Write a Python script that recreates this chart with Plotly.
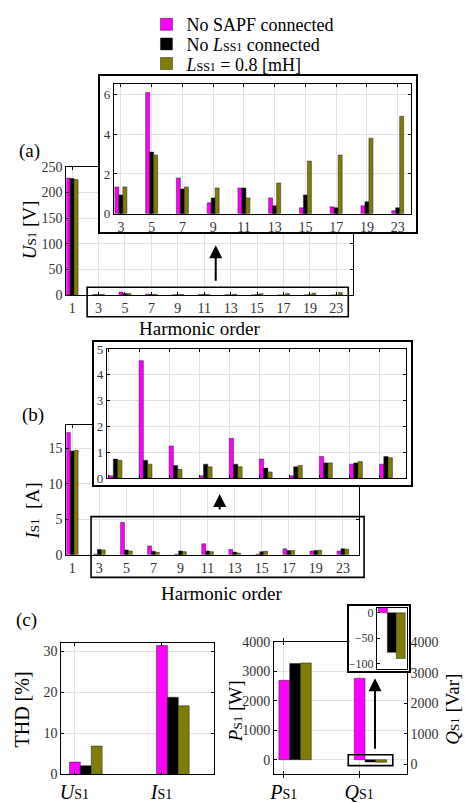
import plotly.graph_objects as go

# ---------------- data ----------------
harmonics = ["1", "3", "5", "7", "9", "11", "13", "15", "17", "19", "23"]

# supply voltage harmonics U_S1 [V]
u_no_sapf = [228, 1.35, 6.1, 1.8, 0.55, 1.3, 0.8, 0.3, 0.35, 0.4, 0.15]
u_no_lss = [227, 0.95, 3.1, 1.25, 0.8, 1.3, 0.4, 0.95, 0.3, 0.6, 0.3]
u_lss = [225, 1.35, 2.95, 1.35, 1.3, 0.8, 1.55, 2.65, 2.95, 3.8, 4.9]

# supply current harmonics I_S1 [A]
i_no_sapf = [17.2, 0.1, 4.55, 1.25, 0.1, 1.55, 0.75, 0.1, 0.85, 0.55, 0.55]
i_no_lss = [14.6, 0.75, 0.7, 0.5, 0.55, 0.55, 0.4, 0.45, 0.6, 0.6, 0.85]
i_lss = [14.7, 0.7, 0.55, 0.35, 0.45, 0.45, 0.25, 0.5, 0.6, 0.65, 0.8]


def sc(t, size=13):
    # small subscript kept on the baseline (as in the original figure)
    return '<span style="font-size:%dpx">%s</span>' % (size, t)


# THD [%]
thd_labels = ["<i>U</i>" + sc("S1", 14), "<i>I</i>" + sc("S1", 14)]
thd_no_sapf = [3.0, 31.4]
thd_no_lss = [2.1, 18.8]
thd_lss = [6.9, 16.7]

# powers
pq_labels = ["<i>P</i>" + sc("S1", 14), "<i>Q</i>" + sc("S1", 14)]
pq_no_sapf = [2700, 2770]
pq_no_lss = [3270, -78]
pq_lss = [3290, -90]

series_names = ["No SAPF connected",
                "No <i>L</i>" + sc("SS1", 12) + " connected",
                "<i>L</i>" + sc("SS1", 12) + " = 0.8 [mH]"]
colors = ["#ff00ff", "#000000", "#7f7d05"]

# ---------------- layout helpers ----------------
W, H = 465, 803
FONT = "Liberation Serif, Times New Roman, serif"


def dx(a, b):
    return [a / W, b / W]


def dy(top, bottom):
    return [1 - bottom / H, 1 - top / H]


def axis(domain, anchor, rng, grid=True, labels=True, size=14, mirror="allticks",
         tickvals=None, ticks="inside", lw=1, **kw):
    d = dict(domain=domain, anchor=anchor, range=rng, autorange=False,
             showline=True, linecolor="black", linewidth=lw, mirror=mirror,
             ticks=ticks, ticklen=3, tickwidth=1, tickcolor="black",
             showgrid=grid, gridcolor="#e2e2e2", gridwidth=1, zeroline=False,
             showticklabels=labels, fixedrange=True,
             tickfont=dict(family=FONT, size=size, color="#333"))
    if tickvals is not None:
        d["tickvals"] = tickvals
    d.update(kw)
    return d


def box_axis(domain, anchor):
    return dict(domain=domain, anchor=anchor, range=[0, 1], autorange=False,
                showline=True, linecolor="black", linewidth=1.6, mirror=True,
                ticks="", showgrid=False, zeroline=False, showticklabels=False,
                fixedrange=True)


fig = go.Figure()
legend_ids = ["legend", "legend2", "legend3"]


def add_group(xcats, series, xa, ya, gw, start=None, legend=False):
    w = gw / 3
    s0 = -gw / 2 if start is None else start
    for k, (vals, col, name) in enumerate(zip(series, colors, series_names)):
        fig.add_trace(go.Bar(
            x=xcats, y=vals, name=name, marker_color=col,
            marker_line=dict(color="#222", width=0.5),
            width=w, offset=s0 + k * w, legend=legend_ids[k],
            xaxis=xa, yaxis=ya, showlegend=legend, hoverinfo="skip"))


def add_empty(xa, ya):
    fig.add_trace(go.Scatter(x=[], y=[], xaxis=xa, yaxis=ya,
                             showlegend=False, hoverinfo="skip"))


# (a) main
add_group(harmonics, [u_no_sapf, u_no_lss, u_lss], "x", "y", 0.45, legend=True)
# (a) inset box
add_empty("x2", "y2")
# (a) inset
add_group(harmonics[1:], [u_no_sapf[1:], u_no_lss[1:], u_lss[1:]], "x3", "y3", 0.39)
# (b) main
add_group(harmonics, [i_no_sapf, i_no_lss, i_lss], "x4", "y4", 0.43)
# (b) inset box
add_empty("x5", "y5")
# (b) inset
add_group(harmonics[1:], [i_no_sapf[1:], i_no_lss[1:], i_lss[1:]], "x6", "y6", 0.43, start=0.0)
# (c) THD
add_group(thd_labels, [thd_no_sapf, thd_no_lss, thd_lss], "x7", "y7", 0.375, start=-0.057)
# (c) P, Q
add_group(pq_labels, [pq_no_sapf, pq_no_lss, pq_lss], "x8", "y8", 0.43, start=-0.066)
add_empty("x8", "y9")
# (c) inset box
add_empty("x10", "y10")
# (c) inset
add_group(pq_labels[1:], [pq_no_sapf[1:], pq_no_lss[1:], pq_lss[1:]], "x11", "y11", 0.9)


def leg(yc):
    return dict(x=143 / W, y=1 - yc / H, xanchor="left", yanchor="middle",
                font=dict(family=FONT, size=18, color="black"),
                bgcolor="rgba(0,0,0,0)", itemwidth=30)


layout = dict(
    width=W, height=H, margin=dict(l=0, r=0, t=0, b=0),
    paper_bgcolor="white", plot_bgcolor="white", barmode="overlay",
    font=dict(family=FONT, color="black"),
    showlegend=True,
    legend=leg(18), legend2=leg(38), legend3=leg(58),
    # (a) main
    xaxis=axis(dx(62, 352), "y", [-0.22, 10.64], type="category"),
    yaxis=axis(dy(163, 294), "x", [0, 250], tickvals=[0, 50, 100, 150, 200, 250]),
    # (a) box
    xaxis2=box_axis(dx(96, 415), "y2"),
    yaxis2=box_axis(dy(70, 230), "x2"),
    # (a) inset
    xaxis3=axis(dx(110, 410), "y3", [-0.23, 9.42], type="category", size=14),
    yaxis3=axis(dy(79, 211), "x3", [0, 6.5], tickvals=[0, 2, 4, 6], size=13),
    # (b) main
    xaxis4=axis(dx(62, 358), "y4", [-0.22, 10.6], type="category"),
    yaxis4=axis(dy(427, 559), "x4", [0, 18.2], tickvals=[0, 5, 10, 15]),
    # (b) box
    xaxis5=box_axis(dx(90, 410), "y5"),
    yaxis5=box_axis(dy(342, 488), "x5"),
    # (b) inset
    xaxis6=axis(dx(103, 405), "y6", [-0.07, 9.87], type="category", labels=False),
    yaxis6=axis(dy(349, 481), "x6", [0, 5], tickvals=[0, 1, 2, 3, 4, 5], size=13),
    # (c) THD
    xaxis7=axis(dx(57, 211), "y7", [-0.15, 1.6], type="category",
                tickfont=dict(family=FONT, size=20, color="black")),
    yaxis7=axis(dy(649, 783), "x7", [0, 32], tickvals=[0, 10, 20, 30]),
    # (c) P/Q
    xaxis8=axis(dx(272, 406), "y8", [-0.13, 1.63], type="category",
                tickfont=dict(family=FONT, size=20, color="black")),
    yaxis8=axis(dy(648, 783), "x8", [-500, 4000], tickvals=[0, 1000, 2000, 3000, 4000],
                mirror=False),
    yaxis9=axis(dy(648, 783), "x8", [-335, 4005], tickvals=[0, 1000, 2000, 3000, 4000],
                mirror=False, overlaying="y8", side="right", grid=False),
    # (c) box
    xaxis10=box_axis(dx(348, 408), "y10"),
    yaxis10=box_axis(dy(611, 678), "x10"),
    # (c) inset
    xaxis11=axis(dx(376, 406), "y11", [-0.5, 0.5], type="category", labels=False,
                 grid=False, ticks=""),
    yaxis11=axis(dy(613, 675), "x11", [-110, 10], tickvals=[0, -50, -100], size=12,
                 grid=False, mirror=True),
)
fig.update_layout(**layout)

# zoom-region boxes
for (x0, x1, y0, y1) in [(83, 347, 286, 316), (87, 363, 520, 582), (347, 392, 763, 774)]:
    fig.add_shape(type="rect", xref="paper", yref="paper",
                  x0=x0 / W, x1=x1 / W, y0=1 - y1 / H, y1=1 - y0 / H,
                  line=dict(color="black", width=1.6), fillcolor="rgba(0,0,0,0)",
                  layer="above")

# arrows
for (x, yh, yt) in [(213, 243, 280), (217, 497, 514), (374, 685, 757)]:
    fig.add_annotation(x=x / W, y=1 - yh / H, xref="paper", yref="paper",
                       ax=0, ay=yt - yh, axref="pixel", ayref="pixel",
                       text="", showarrow=True, arrowhead=2, arrowsize=1.3,
                       arrowwidth=2, arrowcolor="black", standoff=0)


def label(text, x, y, size=19, angle=0):
    fig.add_annotation(x=x / W, y=1 - y / H, xref="paper", yref="paper",
                       text=text, showarrow=False, textangle=angle,
                       xanchor="center", yanchor="middle",
                       font=dict(family=FONT, size=size, color="black"))


label("(a)", 25, 147)
label("(b)", 28, 416)
label("(c)", 22, 625)
label("Harmonic order", 197, 328)
label("Harmonic order", 219, 598)
label("<i>U</i>" + sc("S1", 13) + " [V]", 25, 227, angle=-90)
label("<i>I</i>" + sc("S1", 13) + "  [A]", 28, 514, angle=-90)
label("THD [%]", 17, 717, size=20, angle=-90)
label("<i>P</i>" + sc("S1", 13) + " [W]", 233, 718, angle=-90)
label("<i>Q</i>" + sc("S1", 13) + " [Var]", 453, 717, angle=-90)

fig.write_html("out.html")
